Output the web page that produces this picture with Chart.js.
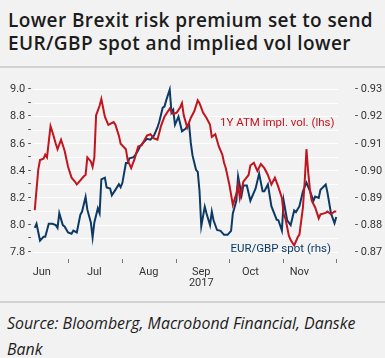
<!DOCTYPE html>
<html>
<head>
<meta charset="utf-8">
<script src="https://cdn.jsdelivr.net/npm/chart.js@4.4.0/dist/chart.umd.min.js"></script>
<style>
  html, body { margin: 0; padding: 0; }
  body { width: 385px; height: 358px; background: #f2f2f2; position: relative; overflow: hidden; font-family: Roboto, 'Noto Sans', sans-serif; }
  .title { position: absolute; left: 8px; top: 9px; font-family: 'Open Sans', Roboto, sans-serif; font-size: 19px; font-weight: 600; letter-spacing: 0.4px; line-height: 23px; color: #1c1c1c; white-space: nowrap; }
  .rule { position: absolute; left: 0; width: 385px; height: 2px; background: #d2d2d2; }
  .chart-box { position: absolute; left: 0; top: 68px; width: 385px; height: 232px; }
  .source { position: absolute; left: 7px; top: 310px; font-family: 'Open Sans', Roboto, sans-serif; font-size: 15.9px; font-style: italic; line-height: 26px; color: #1c1c1c; white-space: nowrap; }
</style>
</head>
<body>
<div class="title">Lower Brexit risk premium set to send<br>EUR/GBP spot and implied vol lower</div>
<div class="rule" style="top:66px"></div>
<div class="chart-box"><canvas id="fxChart"></canvas></div>
<div class="rule" style="top:301px"></div>
<div class="source">Source: Bloomberg, Macrobond Financial, Danske<br>Bank</div>

<script>
// x values are days counted from 1 Jun 2017
const volDays = [11, 13, 14, 16, 17, 18, 20, 21, 23, 24, 26, 28, 30, 32, 34, 35, 37, 39, 40, 41,
  43, 44, 45, 46, 48, 49, 51, 53, 56, 57, 59, 60, 63, 64, 66, 68, 70, 72, 75, 77,
  79, 81, 83, 85, 88, 90, 92, 94, 95, 96, 98, 100, 102, 104, 105, 107, 109, 111, 112, 114,
  116, 118, 119, 120, 122, 124, 126, 127, 128, 130, 133, 134, 136, 138, 140, 142, 144, 146, 148, 150,
  152, 153, 154, 156, 157, 159, 161, 162, 164, 165, 166, 167, 168, 169, 171, 173, 174, 177, 178, 180,
  182, 183];
const volValues = [8.11, 8.41, 8.48, 8.49, 8.52, 8.50, 8.73, 8.69, 8.60, 8.56, 8.63, 8.55, 8.43, 8.35, 8.32, 8.30, 8.33, 8.36, 8.37, 8.50,
  8.47, 8.43, 8.50, 8.81, 8.88, 8.93, 8.80, 8.74, 8.76, 8.74, 8.66, 8.60, 8.56, 8.48, 8.42, 8.49, 8.58, 8.59, 8.66, 8.67,
  8.64, 8.63, 8.73, 8.80, 8.86, 8.82, 8.83, 8.87, 8.90, 8.81, 8.72, 8.79, 8.84, 8.92, 8.90, 8.83, 8.79, 8.74, 8.65, 8.67,
  8.58, 8.52, 8.46, 8.42, 8.30, 8.15, 8.23, 8.30, 8.20, 8.32, 8.37, 8.44, 8.46, 8.40, 8.45, 8.42, 8.37, 8.30, 8.35, 8.28,
  8.20, 8.08, 8.05, 7.92, 7.89, 7.85, 7.91, 7.93, 8.13, 8.32, 8.56, 8.39, 8.26, 8.18, 8.13, 8.05, 8.08, 8.09, 8.10, 8.08,
  8.10, 8.10];

const spotDays = [11, 12, 14, 16, 17, 19, 21, 23, 24, 25, 27, 28, 30, 32, 33, 35, 37, 38, 40, 41,
  43, 44, 45, 47, 48, 49, 51, 52, 54, 55, 57, 59, 60, 61, 63, 64, 65, 67, 68, 70,
  71, 73, 75, 77, 79, 81, 82, 84, 85, 86, 88, 89, 90, 91, 93, 95, 97, 99, 100, 101,
  103, 104, 105, 106, 108, 109, 111, 112, 113, 115, 117, 119, 121, 123, 124, 126, 127, 129, 130, 132,
  134, 137, 139, 141, 142, 144, 146, 149, 150, 152, 153, 155, 157, 159, 160, 162, 164, 166, 168, 170,
  171, 173, 174, 177, 178, 180, 182, 183];
const spotValues = [0.879, 0.8805, 0.8743, 0.8757, 0.8757, 0.8805, 0.8805, 0.880, 0.879, 0.8844, 0.880, 0.8795, 0.8773, 0.8768, 0.878, 0.8773, 0.8838, 0.885, 0.8904, 0.8857,
  0.881, 0.8755, 0.881, 0.8862, 0.8844, 0.8969, 0.8975, 0.8939, 0.8935, 0.891, 0.893, 0.8951, 0.894, 0.8956, 0.9029, 0.9029, 0.9046, 0.905, 0.9055, 0.9076,
  0.909, 0.9105, 0.9118, 0.9115, 0.913, 0.916, 0.918, 0.9233, 0.9237, 0.926, 0.930, 0.9215, 0.9225, 0.917, 0.920, 0.9146, 0.9155, 0.9175, 0.9104, 0.9057,
  0.9004, 0.8996, 0.8925, 0.8796, 0.8868, 0.8843, 0.880, 0.885, 0.8818, 0.8782, 0.8779, 0.8764, 0.8764, 0.8779, 0.8843, 0.889, 0.898, 0.891, 0.8946, 0.8946,
  0.889, 0.8935, 0.899, 0.8925, 0.8925, 0.895, 0.887, 0.882, 0.8818, 0.878, 0.889, 0.8818, 0.880, 0.8854, 0.8848, 0.887, 0.8925, 0.8957, 0.8925, 0.889,
  0.8905, 0.890, 0.893, 0.895, 0.892, 0.8843, 0.8807, 0.883];

const monthLabels = ['Jun', 'Jul', 'Aug', 'Sep', 'Oct', 'Nov'];
const monthLabelDays = [15, 45, 76, 106, 134, 162];
const monthStartDays = [30, 61, 92, 122, 153, 183];
const yearLabel = '2017';
const leftTicks = [7.8, 7.9, 8.0, 8.1, 8.2, 8.3, 8.4, 8.5, 8.6, 8.7, 8.8, 8.9, 9.0];
const rightTicks = [0.87, 0.88, 0.89, 0.90, 0.91, 0.92, 0.93];

const RED = '#c0141e';
const BLUE = '#0c3a64';
const tickFont = { family: 'Roboto', size: 11, lineHeight: 1.05 };

function pairs(xs, ys) {
  return xs.map((x, i) => ({ x: x, y: ys[i] }));
}

// text labels written next to the lines
const lineLabels = {
  id: 'lineLabels',
  afterDatasetsDraw(chart) {
    const ctx = chart.ctx;
    const x = chart.scales.x;
    ctx.save();
    ctx.font = '11.5px Roboto';
    ctx.textAlign = 'right';
    ctx.textBaseline = 'middle';
    ctx.fillStyle = RED;
    ctx.fillText('1Y ATM impl. vol. (lhs)', x.getPixelForValue(182), chart.scales.y.getPixelForValue(8.75));
    ctx.fillStyle = BLUE;
    ctx.fillText('EUR/GBP spot (rhs)', x.getPixelForValue(180), chart.scales.y1.getPixelForValue(0.871));
    ctx.restore();
  }
};

new Chart(document.getElementById('fxChart'), {
  type: 'line',
  data: {
    datasets: [{
      label: '1Y ATM impl. vol. (lhs)',
      data: pairs(volDays, volValues),
      borderColor: RED,
      borderWidth: 2,
      pointRadius: 0,
      tension: 0,
      yAxisID: 'y'
    }, {
      label: 'EUR/GBP spot (rhs)',
      data: pairs(spotDays, spotValues),
      borderColor: BLUE,
      borderWidth: 2,
      pointRadius: 0,
      tension: 0,
      yAxisID: 'y1'
    }]
  },
  options: {
    responsive: true,
    maintainAspectRatio: false,
    animation: false,
    layout: { padding: { top: 9, left: 0, right: 0, bottom: 0 } },
    plugins: { legend: { display: false }, tooltip: { enabled: false } },
    scales: {
      x: {
        type: 'linear',
        min: 10,
        max: 184,
        afterBuildTicks: (scale) => {
          scale.ticks = monthStartDays.concat(monthLabelDays).sort((a, b) => a - b).map(v => ({ value: v }));
        },
        afterFit: (scale) => { scale.height = 41; },
        border: { display: false },
        grid: {
          drawOnChartArea: false,
          drawTicks: true,
          tickLength: 4,
          tickColor: (ctx) => (ctx.tick && monthStartDays.includes(ctx.tick.value)) ? '#777' : 'rgba(0,0,0,0)'
        },
        ticks: {
          autoSkip: false,
          maxRotation: 0,
          padding: 3,
          color: '#333',
          font: tickFont,
          callback: (value) => {
            const i = monthLabelDays.indexOf(value);
            if (i < 0) return '';
            return monthLabels[i] === 'Sep' ? [monthLabels[i], yearLabel] : monthLabels[i];
          }
        }
      },
      y: {
        position: 'left',
        min: 7.75,
        max: 9.05,
        afterBuildTicks: (scale) => { scale.ticks = leftTicks.map(v => ({ value: v })); },
        afterFit: (scale) => { scale.width = 33; },
        border: { display: false },
        grid: { color: '#ffffff', lineWidth: 1, drawTicks: false },
        ticks: {
          padding: 2,
          color: '#333',
          font: tickFont,
          callback: (value) => (Math.round(value * 10) % 2 === 0) ? value.toFixed(1) + ' -' : '-'
        }
      },
      y1: {
        position: 'right',
        min: 0.8675,
        max: 0.9325,
        afterBuildTicks: (scale) => { scale.ticks = rightTicks.map(v => ({ value: v })); },
        afterFit: (scale) => { scale.width = 47; },
        border: { display: false },
        grid: { display: false },
        ticks: {
          padding: 9,
          color: '#333',
          font: tickFont,
          callback: (value) => '- ' + value.toFixed(2)
        }
      }
    }
  },
  plugins: [lineLabels]
});
</script>
</body>
</html>
